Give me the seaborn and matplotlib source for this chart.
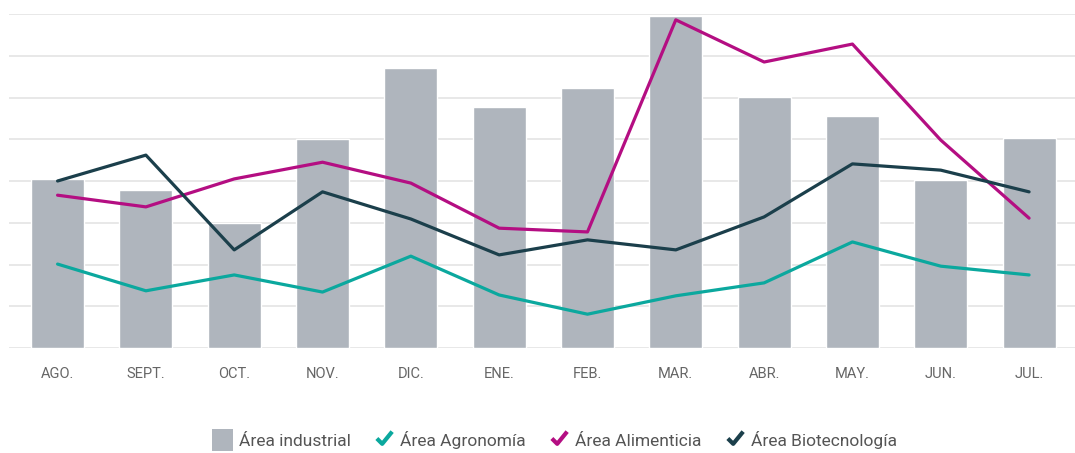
import numpy as np
import pandas as pd
import matplotlib
matplotlib.use("Agg")
import matplotlib.pyplot as plt
from matplotlib.path import Path
from matplotlib.lines import Line2D
from matplotlib.patches import Patch
import seaborn as sns

meses = ["AGO.", "SEPT.", "OCT.", "NOV.", "DIC.", "ENE.", "FEB.", "MAR.",
         "ABR.", "MAY.", "JUN.", "JUL."]
industrial = [4.05, 3.78, 3.0, 5.0, 6.71, 5.77, 6.23, 7.95, 6.01, 5.56, 4.02, 5.03]
agronomia = [2.01, 1.37, 1.75, 1.34, 2.2, 1.27, 0.81, 1.25, 1.56, 2.54, 1.96, 1.75]
alimenticia = [3.66, 3.38, 4.05, 4.45, 3.95, 2.87, 2.78, 7.86, 6.85, 7.28, 4.98, 3.11]
biotecnologia = [4.0, 4.62, 2.35, 3.74, 3.09, 2.23, 2.59, 2.35, 3.14, 4.41, 4.26, 3.74]

c_bar = "#AFB5BD"
c_agro = "#0BA89E"
c_alim = "#B40E82"
c_bio = "#1B3F4B"

sns.set_theme(style="whitegrid")
plt.rcParams["font.family"] = ["Roboto", "DejaVu Sans"]

fig = plt.figure(figsize=(10.75, 4.53), dpi=100)
ax = fig.add_axes([9 / 1075, 105 / 453, 1 - 9 / 1075, 334 / 453])

pos = np.arange(len(meses))
sns.barplot(x=pos, y=industrial, color=c_bar, saturation=1, width=0.6,
            native_scale=True, ax=ax, zorder=2)

lineas = pd.DataFrame({
    "pos": np.tile(pos, 3),
    "valor": agronomia + alimenticia + biotecnologia,
    "serie": ["Área Agronomía"] * 12 + ["Área Alimenticia"] * 12 + ["Área Biotecnología"] * 12,
})
sns.lineplot(data=lineas, x="pos", y="valor", hue="serie",
             palette=[c_agro, c_alim, c_bio], linewidth=2.3, ax=ax,
             legend=False, zorder=3)

ax.set_xlim(-0.55, 11.52)
ax.set_ylim(0, 8)
ax.set_yticks(np.arange(0, 9, 1))
ax.set_yticklabels([])
ax.set_xticks(pos)
ax.set_xticklabels(meses, fontsize=10.5, color="#666666")
ax.tick_params(axis="x", length=0, pad=14)
ax.tick_params(axis="y", length=0)
ax.grid(axis="y", color="#E2E2E2", linewidth=1.1)
ax.grid(axis="x", visible=False)
ax.set_axisbelow(True)
for s in ax.spines.values():
    s.set_visible(False)
ax.set_xlabel("")
ax.set_ylabel("")

# check-shaped legend markers for the line series
check = Path([(-1.0, 0.0), (-0.3, -0.7), (1.0, 0.9)],
             [Path.MOVETO, Path.LINETO, Path.LINETO])
handles = [Patch(facecolor=c_bar, edgecolor="none", label="Área industrial")]
for col, lab in [(c_agro, "Área Agronomía"), (c_alim, "Área Alimenticia"),
                 (c_bio, "Área Biotecnología")]:
    handles.append(Line2D([], [], linestyle="none", marker=check, markersize=11,
                          markerfacecolor="none", markeredgecolor=col,
                          markeredgewidth=3, label=lab))
leg = fig.legend(handles=handles, loc="center", bbox_to_anchor=(0.516, 0.028),
                 ncol=4, frameon=False, fontsize=12.5, handlelength=1.2,
                 handleheight=1.6, handletextpad=0.35, columnspacing=1.3)
for t in leg.get_texts():
    t.set_color("#555555")

fig.savefig("out.png", dpi=100)
